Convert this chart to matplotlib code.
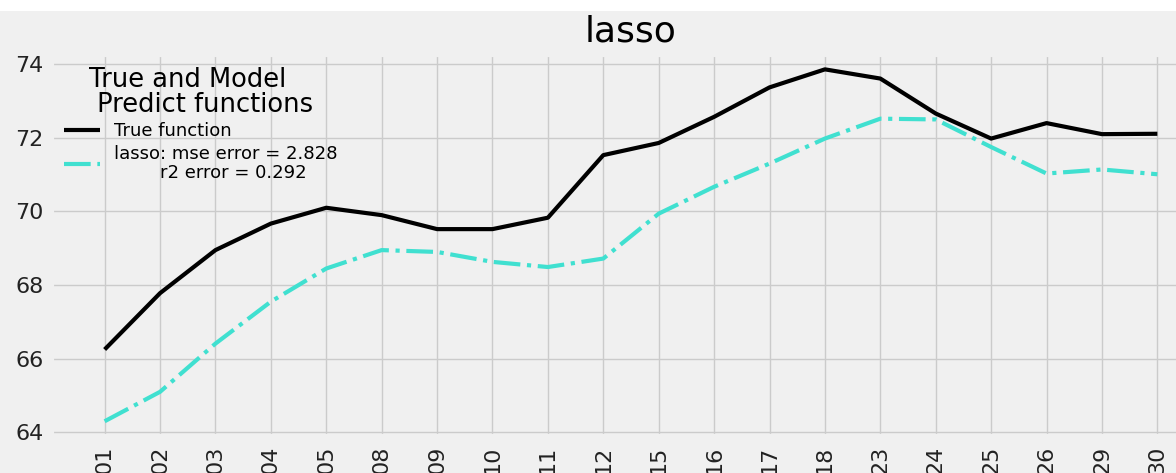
import matplotlib
matplotlib.use("Agg")
import matplotlib.pyplot as plt
from matplotlib.patches import Rectangle

# trading days of the month (x axis) and the two series
days = ["01", "02", "03", "04", "05", "08", "09", "10", "11", "12",
        "15", "16", "17", "18", "23", "24", "25", "26", "29", "30"]
true_values = [66.25, 67.78, 68.95, 69.67, 70.1, 69.9, 69.52, 69.52, 69.83, 71.53,
               71.86, 72.57, 73.37, 73.86, 73.61, 72.66, 71.98, 72.4, 72.1, 72.11]
lasso_values = [64.3, 65.1, 66.41, 67.55, 68.45, 68.95, 68.9, 68.63, 68.49, 68.72,
                69.94, 70.67, 71.3, 71.98, 72.52, 72.5, 71.75, 71.03, 71.14, 71.01]
mse_error = 2.828
r2_error = 0.292
y_ticks = [64, 66, 68, 70, 72, 74]

plt.style.use("fivethirtyeight")

fig = plt.figure(figsize=(11.76, 4.73), dpi=100)
ax = fig.add_axes([52 / 1176, 37 / 473, 1158 / 1176, 381 / 473])

# thin white band along the top edge
fig.add_artist(Rectangle((0, 1 - 11 / 473), 1, 11 / 473, transform=fig.transFigure,
                         facecolor="white", edgecolor="none", zorder=10))

x = list(range(len(days)))
ax.plot(x, true_values, color="black", lw=3, label="True function")
ax.plot(x, lasso_values, color="turquoise", lw=3, ls="-.",
        label="lasso: mse error = {}\n        r2 error = {}".format(mse_error, r2_error))

ax.set_xticks(x)
ax.set_xticklabels(days, rotation=90)
ax.set_xlim(-0.95, len(days) - 1 + 0.95)
ax.set_yticks(y_ticks)
ax.set_ylim(63.9, 74.25)
ax.tick_params(axis="both", labelsize=16, colors="#222222")
ax.tick_params(axis="y", pad=6)
ax.tick_params(axis="x", pad=7)
ax.grid(True, color="#cbcbcb", lw=1)

ax.set_title("lasso", fontsize=26, pad=10)
leg = ax.legend(title="True and Model\n Predict functions", loc="upper left",
                fontsize=13, title_fontsize=18.5, frameon=False,
                labelspacing=0.25, handlelength=2.0, borderpad=0.15)
leg.get_title().set_linespacing(0.95)
for t in leg.get_texts():
    t.set_linespacing(1.1)

fig.savefig("out.png", dpi=100)
